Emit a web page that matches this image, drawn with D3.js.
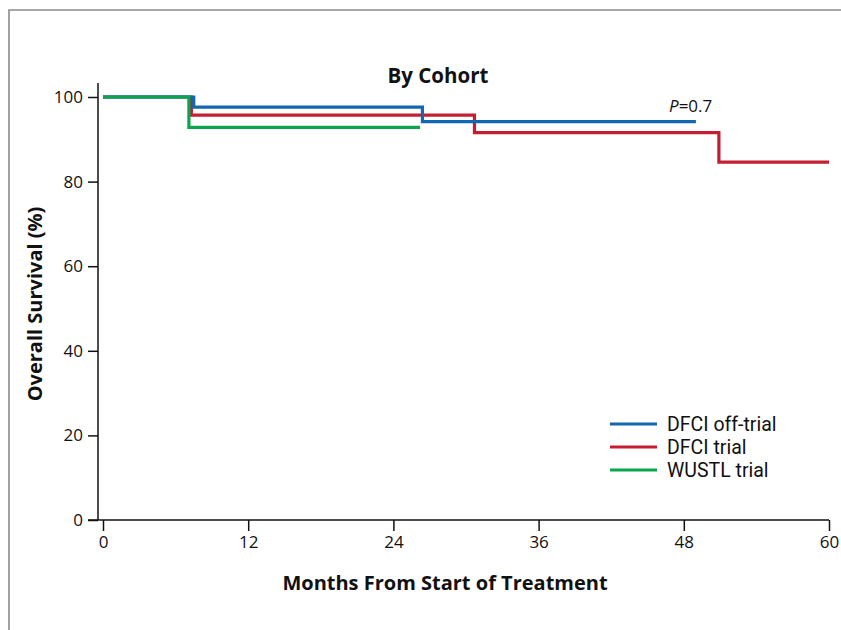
<!DOCTYPE html>
<html>
<head>
<meta charset="utf-8">
<script src="https://cdn.jsdelivr.net/npm/d3@7"></script>
<style>
  html, body { margin: 0; padding: 0; background: #fff; }
  svg { display: block; }
  text { font-family: "Open Sans", "Noto Sans", sans-serif; fill: #111; }
</style>
</head>
<body>
<svg id="chart" width="841" height="630"></svg>
<script>
// ---- Data ----
const title = "By Cohort";
const xLabel = "Months From Start of Treatment";
const yLabel = "Overall Survival (%)";
const pText = "0.7";
const xTicks = [0, 12, 24, 36, 48, 60];
const yTicks = [0, 20, 40, 60, 80, 100];
const seriesNames = ["DFCI off-trial", "DFCI trial", "WUSTL trial"];
const seriesColors = ["#1268b0", "#c41e30", "#0aa64f"];
// Kaplan–Meier step points: [month, survival %]
const dfciOffTrial = [[0, 100], [7.5, 97.6], [26.4, 94.2], [49.0, 94.2]];
const dfciTrial = [[0, 100], [7.3, 95.7], [30.7, 91.6], [50.9, 84.6], [60, 84.6]];
const wustlTrial = [[0, 100], [7.1, 92.8], [26.2, 92.8]];
const seriesData = [dfciOffTrial, dfciTrial, wustlTrial];

// ---- Layout ----
const svg = d3.select("#chart");
const x = d3.scaleLinear().domain([0, 60]).range([103, 829]);
const y = d3.scaleLinear().domain([0, 100]).range([520, 97]);
const axisX0 = 98; // y-axis position

// Frame
svg.append("path")
  .attr("d", "M9,630 L9,10 L841,10")
  .attr("fill", "none").attr("stroke", "#8a8a8a").attr("stroke-width", 1.6);

// Y axis
const gy = svg.append("g").attr("transform", `translate(${axisX0},0)`)
  .call(d3.axisLeft(y).tickValues(yTicks).tickSize(10).tickPadding(5).tickSizeOuter(0));
gy.select(".domain").remove();
gy.append("line").attr("x1", 0).attr("x2", 0).attr("y1", 83).attr("y2", 520)
  .attr("stroke", "#111").attr("stroke-width", 1.5);
gy.selectAll(".tick line").attr("stroke", "#111").attr("stroke-width", 1.5);
gy.selectAll(".tick text").style("font-size", "17px").attr("fill", "#111")
  .style("font-family", '"Open Sans", sans-serif');

// X axis
const gx = svg.append("g").attr("transform", "translate(0,520)")
  .call(d3.axisBottom(x).tickValues(xTicks).tickSize(11).tickPadding(5).tickSizeOuter(0));
gx.select(".domain").remove();
gx.append("line").attr("x1", 88).attr("x2", x(60)).attr("y1", 0).attr("y2", 0)
  .attr("stroke", "#111").attr("stroke-width", 1.5);
gx.selectAll(".tick line").attr("stroke", "#111").attr("stroke-width", 1.5);
gx.selectAll(".tick text").style("font-size", "17px").attr("fill", "#111")
  .style("font-family", '"Open Sans", sans-serif');

// Curves
const line = d3.line().x(d => x(d[0])).y(d => y(d[1])).curve(d3.curveStepAfter);
const order = [1, 0, 2];
order.forEach(i => {
  svg.append("path")
    .datum(seriesData[i])
    .attr("d", line)
    .attr("fill", "none")
    .attr("stroke", seriesColors[i])
    .attr("stroke-width", 3.2);
});

// Title
svg.append("text").attr("x", 438).attr("y", 83).attr("text-anchor", "middle")
  .style("font-size", "20.5px").style("font-weight", "bold").text(title);

// P value
const pt = svg.append("text").attr("x", 669).attr("y", 112)
  .style("font-size", "17px");
pt.append("tspan").style("font-style", "italic").text("P");
pt.append("tspan").text("=" + pText);

// Axis labels
svg.append("text").attr("x", 445).attr("y", 590).attr("text-anchor", "middle")
  .style("font-size", "20px").style("font-weight", "bold").text(xLabel);
svg.append("text").attr("transform", "translate(42,304) rotate(-90)")
  .attr("text-anchor", "middle")
  .style("font-size", "20px").style("font-weight", "bold").text(yLabel);

// Legend
const legend = svg.append("g");
seriesNames.forEach((name, i) => {
  const ly = 424 + i * 23;
  legend.append("line").attr("x1", 610).attr("x2", 657).attr("y1", ly).attr("y2", ly)
    .attr("stroke", seriesColors[i]).attr("stroke-width", 3.2);
  legend.append("text").attr("x", 667).attr("y", ly + 7)
    .style("font-family", "Roboto, sans-serif")
    .style("font-size", "19.5px").text(name);
});
</script>
</body>
</html>
